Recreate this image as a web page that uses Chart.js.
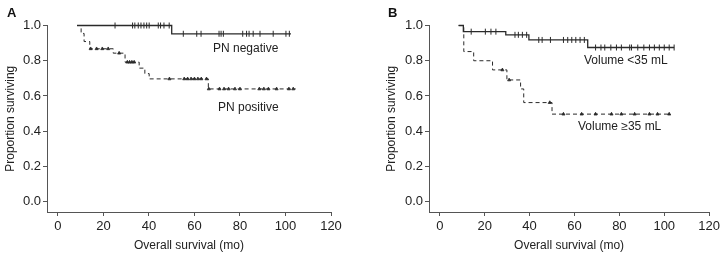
<!DOCTYPE html>
<html>
<head>
<meta charset="utf-8">
<script src="https://cdn.jsdelivr.net/npm/chart.js@4.4.1/dist/chart.umd.min.js"></script>
<style>
  html, body { margin: 0; padding: 0; background: #fff; }
  #wrap { position: relative; width: 723px; height: 254px; font-family: "Liberation Sans", Arial, sans-serif; color: #222; }
  canvas { position: absolute; top: 0; }
  .lbl { position: absolute; font-size: 12px; line-height: 14px; white-space: nowrap; color: #222; }
  .panel { position: absolute; font-size: 13px; font-weight: bold; line-height: 15px; color: #111; }
</style>
</head>
<body>
<div id="wrap">
  <canvas id="chartA" width="361" height="254" style="left:0"></canvas>
  <canvas id="chartB" width="342" height="254" style="left:381px"></canvas>
  <div class="panel" style="left:7px; top:5px">A</div>
  <div class="panel" style="left:388px; top:5px">B</div>
  <div class="lbl" style="left:213px; top:41px">PN negative</div>
  <div class="lbl" style="left:218px; top:100px">PN positive</div>
  <div class="lbl" style="left:584px; top:53px">Volume &lt;35 mL</div>
  <div class="lbl" style="left:578px; top:119px">Volume ≥35 mL</div>
</div>
<script>
// tick labels
const xTicks = [0, 20, 40, 60, 80, 100, 120];
const yTicks = [0.0, 0.2, 0.4, 0.6, 0.8, 1.0];

// Panel A: PN negative (solid) — step times / survival, censor times
const negTimes = [8.4, 50.0, 102.4];
const negSurv = [1.0, 0.953, 0.953];
const negCensor = [25.1, 32.8, 33.8, 35.3, 36.5, 37.8, 39.0, 40.1, 44.1, 45.1, 46.6, 48.9,
  55.1, 61.0, 62.9, 70.8, 71.7, 72.7, 81.2, 82.9, 84.0, 85.8, 88.8, 94.6, 100.2, 101.7];

// Panel A: PN positive (dashed)
const posTimes = [8.4, 10.2, 11.5, 14.0, 24.3, 29.5, 35.7, 38.2, 40.1, 66.1, 104.5];
const posSurv = [1.0, 0.955, 0.909, 0.868, 0.843, 0.792, 0.758, 0.727, 0.697, 0.64, 0.64];
const posCensor = [14.4, 17.0, 19.5, 22.1, 26.9, 30.5, 31.5, 32.5, 33.5, 49.0,
  55.5, 57.0, 58.5, 60.0, 61.5, 63.0, 65.3, 66.3, 71.0, 73.0, 75.0, 77.8, 80.0,
  88.5, 90.5, 92.5, 96.1, 101.5, 103.4];

// Panel B: Volume <35 mL (solid)
const lowTimes = [8.4, 10.5, 29.4, 39.7, 65.9, 104.4];
const lowSurv = [1.0, 0.965, 0.947, 0.918, 0.875, 0.875];
const lowCensor = [14.0, 20.3, 22.8, 25.0, 33.5, 35.0, 36.8, 38.7, 44.1, 45.6, 49.3,
  55.1, 57.0, 58.8, 60.6, 62.5, 64.4, 69.4, 71.8, 73.5, 76.2, 78.7, 80.9, 84.6, 85.4,
  88.2, 90.9, 93.4, 95.6, 97.8, 100.0, 102.2, 104.4];

// Panel B: Volume >=35 mL (dashed)
const highTimes = [8.4, 10.7, 15.1, 23.5, 29.9, 36.0, 37.4, 50.0, 102.9];
const highSurv = [1.0, 0.852, 0.80, 0.748, 0.691, 0.64, 0.5625, 0.497, 0.497];
const highCensor = [27.9, 30.9, 49.0, 55.1, 63.2, 69.4, 76.5, 80.9, 86.8, 93.4, 97.0, 102.2];

const ink = '#2a2a2a';
const axisCol = '#555';

function toPoints(times, surv) {
  return times.map((t, i) => ({ x: t, y: surv[i] }));
}

// survival level in effect at time t (for placing censor marks on the curve)
function survAt(times, surv, t) {
  let s = surv[0];
  for (let i = 0; i < times.length; i++) {
    if (times[i] <= t) s = surv[i];
  }
  return s;
}

function censorPoints(times, surv, cens) {
  return cens.map(t => ({ x: t, y: survAt(times, surv, t) }));
}

function makeChart(id, yWidth, padRight, solid, dashed) {
  const [sT, sS, sC] = solid;
  const [dT, dS, dC] = dashed;
  return new Chart(document.getElementById(id), {
    type: 'line',
    data: {
      datasets: [
        { data: toPoints(sT, sS), stepped: 'before', borderColor: ink, borderWidth: 1.3, pointRadius: 0, fill: false, clip: false },
        { data: toPoints(dT, dS), stepped: 'before', borderColor: ink, borderWidth: 1, borderDash: [4, 3], pointRadius: 0, fill: false, clip: false },
        { type: 'scatter', data: censorPoints(sT, sS, sC), pointStyle: 'line', rotation: 90, pointRadius: 3,
          borderColor: ink, borderWidth: 1, showLine: false, clip: false },
        { type: 'scatter', data: censorPoints(dT, dS, dC), pointStyle: 'triangle', pointRadius: 1.8,
          borderColor: ink, backgroundColor: ink, borderWidth: 0.8, showLine: false, clip: false }
      ]
    },
    options: {
      responsive: false,
      animation: false,
      devicePixelRatio: 1,
      layout: { padding: { top: 25.5, right: padRight, left: 0, bottom: 0 } },
      scales: {
        x: {
          type: 'linear', min: -4.8, max: 120,
          afterFit: s => { s.height = 42; },
          afterBuildTicks: s => { s.ticks = xTicks.map(v => ({ value: v })); },
          ticks: { includeBounds: false, padding: 3, color: '#222', font: { size: 13, family: '"Liberation Sans", Arial' } },
          grid: { drawOnChartArea: false, drawTicks: true, tickLength: 4, color: axisCol },
          border: { display: true, color: axisCol, width: 1 },
          title: { display: true, text: 'Overall survival (mo)', color: '#222', padding: { top: 0, bottom: 1 },
            font: { size: 12, family: '"Liberation Sans", Arial' } }
        },
        y: {
          type: 'linear', min: -0.0585, max: 1.0,
          afterFit: s => { s.width = yWidth; },
          afterBuildTicks: s => { s.ticks = yTicks.map(v => ({ value: v })); },
          ticks: { includeBounds: false, padding: 2, color: '#222', callback: v => Number(v).toFixed(1),
            font: { size: 13, family: '"Liberation Sans", Arial' } },
          grid: { drawOnChartArea: false, drawTicks: true, tickLength: 4, color: axisCol },
          border: { display: true, color: axisCol, width: 1 },
          title: { display: true, text: 'Proportion surviving', color: '#222', padding: { top: 3, bottom: 0 },
            font: { size: 12, family: '"Liberation Sans", Arial' } }
        }
      },
      plugins: { legend: { display: false }, tooltip: { enabled: false } }
    }
  });
}

makeChart('chartA', 47, 30, [negTimes, negSurv, negCensor], [posTimes, posSurv, posCensor]);
makeChart('chartB', 48, 11, [lowTimes, lowSurv, lowCensor], [highTimes, highSurv, highCensor]);
</script>
</body>
</html>
